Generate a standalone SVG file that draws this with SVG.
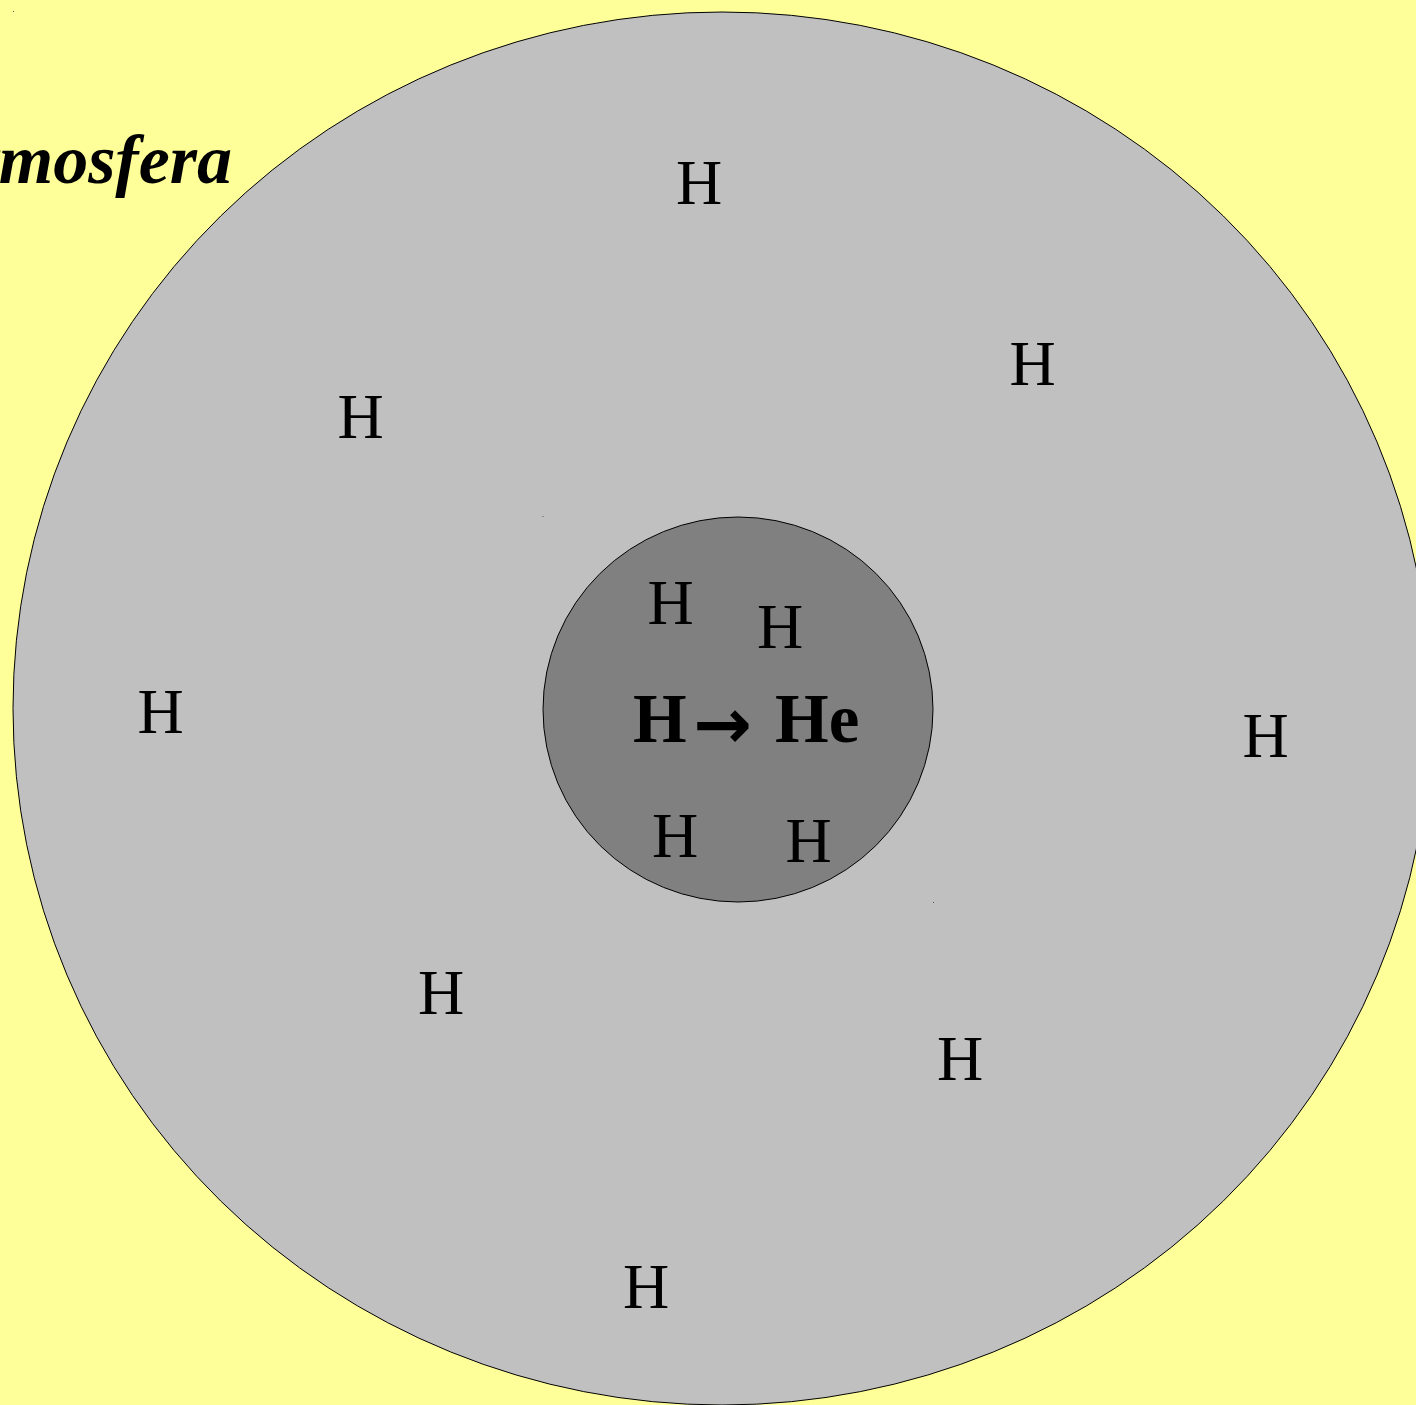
<svg xmlns="http://www.w3.org/2000/svg" width="1416" height="1405" viewBox="0 0 1416 1405">
<style>
.h{font-family:"Liberation Serif","Times New Roman",serif;font-size:64px;fill:#000;text-anchor:middle}
.b{font-family:"Liberation Serif","Times New Roman",serif;font-size:69px;font-weight:bold;fill:#000}
.arr{font-family:"DejaVu Sans",sans-serif;font-size:70px;font-weight:bold;fill:#000;text-anchor:middle}
.t{font-family:"Liberation Serif","Times New Roman",serif;font-size:70px;font-weight:bold;font-style:italic;fill:#000;text-anchor:end}
.dot{fill:#555}
</style>
<rect x="0" y="0" width="1416" height="1405" fill="#ffff99"/>
<g id="atmosfera-label"><text class="t" x="232" y="183">Atmosfera</text></g>
<g id="outer">
<ellipse cx="722" cy="708.5" rx="709" ry="696.5" fill="#c0c0c0" stroke="#000" stroke-width="1"/>
<rect class="dot" x="13" y="11" width="1" height="1"/>
</g>
<g id="core">
<ellipse cx="738" cy="709.5" rx="195" ry="192.5" fill="#808080" stroke="#000" stroke-width="1"/>
<rect class="dot" x="542.5" y="516" width="1" height="1"/>
<rect class="dot" x="933" y="902" width="1" height="1"/>
</g>
<g id="outer-h">
<text class="h" x="699" y="204">H</text>
<text class="h" x="1032.5" y="385">H</text>
<text class="h" x="360.5" y="438">H</text>
<text class="h" x="160.5" y="733">H</text>
<text class="h" x="1265.5" y="757">H</text>
<text class="h" x="441" y="1014">H</text>
<text class="h" x="960" y="1080">H</text>
<text class="h" x="646" y="1308">H</text>
</g>
<g id="core-h">
<text class="h" x="670.5" y="624">H</text>
<text class="h" x="780" y="648">H</text>
<text class="h" x="675" y="857">H</text>
<text class="h" x="808.5" y="862">H</text>
<g id="reaction">
<text class="b" x="633" y="742">H</text>
<text class="arr" x="722.5" y="748">→</text>
<text class="b" x="775" y="742">He</text>
</g>
</g>
<g id="connectors"/>
</svg>
